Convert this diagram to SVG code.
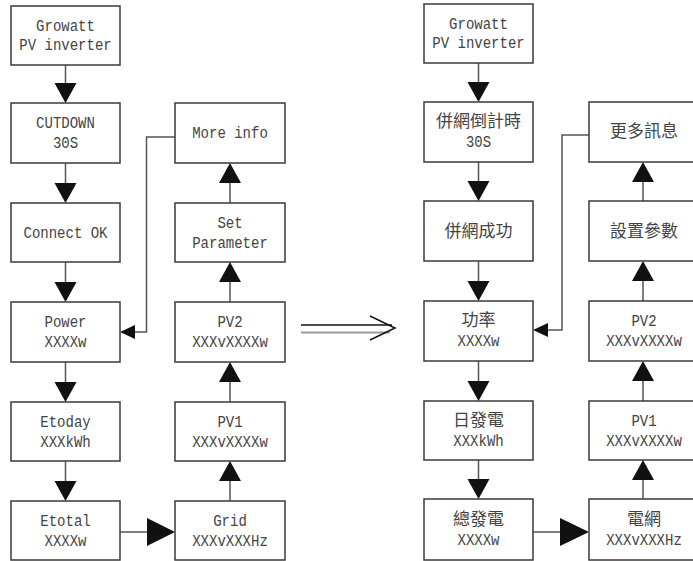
<svg xmlns="http://www.w3.org/2000/svg" width="693" height="561" viewBox="0 0 693 561">
<style>
.box{fill:#fff;stroke:#3a3a3a;stroke-width:1.5}
.t{font-family:"Liberation Mono","DejaVu Sans Mono",monospace;font-size:16px;fill:#444;text-anchor:middle}
.c{font-family:"Noto Sans CJK TC","Noto Sans CJK SC",sans-serif;font-size:17px;fill:#444;text-anchor:middle}
.ln{fill:none;stroke:#555;stroke-width:1.5}
.ah{fill:#111;stroke:none}
</style>
<rect width="693" height="561" fill="#fff"/>
<g id="connectors">
  <!-- left diagram -->
  <line class="ln" x1="65.5" y1="65" x2="65.5" y2="84"/>
  <polygon class="ah" points="54.5,83 76.5,83 65.5,103"/>
  <line class="ln" x1="65.5" y1="163" x2="65.5" y2="184"/>
  <polygon class="ah" points="54.5,183 76.5,183 65.5,203"/>
  <line class="ln" x1="65.5" y1="262" x2="65.5" y2="283"/>
  <polygon class="ah" points="54.5,282 76.5,282 65.5,302"/>
  <line class="ln" x1="65.5" y1="361" x2="65.5" y2="383"/>
  <polygon class="ah" points="54.5,382 76.5,382 65.5,402"/>
  <line class="ln" x1="65.5" y1="461" x2="65.5" y2="482"/>
  <polygon class="ah" points="54.5,481 76.5,481 65.5,501"/>
  <line class="ln" x1="120" y1="532" x2="148" y2="532"/>
  <polygon class="ah" points="147,518 147,546 175,532"/>
  <line class="ln" x1="230" y1="501" x2="230" y2="480"/>
  <polygon class="ah" points="219,481 241,481 230,461"/>
  <line class="ln" x1="230" y1="402" x2="230" y2="381"/>
  <polygon class="ah" points="219,382 241,382 230,362"/>
  <line class="ln" x1="230" y1="302" x2="230" y2="281"/>
  <polygon class="ah" points="219,282 241,282 230,262"/>
  <line class="ln" x1="230" y1="203" x2="230" y2="182"/>
  <polygon class="ah" points="219,183 241,183 230,163"/>
  <polyline class="ln" points="175,137 146.5,137 146.5,332 134,332"/>
  <polygon class="ah" points="135,325 135,339 120,332"/>
  <!-- transition arrow -->
  <line x1="301" y1="325" x2="392" y2="325" stroke="#111" stroke-width="1.5"/>
  <line x1="301" y1="332.5" x2="390" y2="332.5" stroke="#999" stroke-width="2"/>
  <polyline points="370,316 395,328 370,340" fill="none" stroke="#111" stroke-width="1.5"/>
  <!-- right diagram -->
  <line class="ln" x1="478.5" y1="63" x2="478.5" y2="83"/>
  <polygon class="ah" points="467.5,82 489.5,82 478.5,102"/>
  <line class="ln" x1="478.5" y1="162" x2="478.5" y2="182"/>
  <polygon class="ah" points="467.5,181 489.5,181 478.5,201"/>
  <line class="ln" x1="478.5" y1="261" x2="478.5" y2="282"/>
  <polygon class="ah" points="467.5,281 489.5,281 478.5,301"/>
  <line class="ln" x1="478.5" y1="361" x2="478.5" y2="382"/>
  <polygon class="ah" points="467.5,381 489.5,381 478.5,401"/>
  <line class="ln" x1="478.5" y1="460" x2="478.5" y2="480"/>
  <polygon class="ah" points="467.5,479 489.5,479 478.5,499"/>
  <line class="ln" x1="533" y1="532" x2="561" y2="532"/>
  <polygon class="ah" points="560,518 560,546 589,532"/>
  <line class="ln" x1="643" y1="499" x2="643" y2="479"/>
  <polygon class="ah" points="632,480 654,480 643,460"/>
  <line class="ln" x1="643" y1="401" x2="643" y2="380"/>
  <polygon class="ah" points="632,381 654,381 643,361"/>
  <line class="ln" x1="643" y1="301" x2="643" y2="280"/>
  <polygon class="ah" points="632,281 654,281 643,261"/>
  <line class="ln" x1="643" y1="201" x2="643" y2="181"/>
  <polygon class="ah" points="632,182 654,182 643,162"/>
  <polyline class="ln" points="589,135 562,135 562,330 547,330"/>
  <polygon class="ah" points="548,323 548,337 533,330"/>
</g>
<!-- left diagram nodes -->
<g id="l-growatt"><rect class="box" x="11" y="6" width="109" height="59"/><text class="t" x="65.5" y="31" textLength="58.8" lengthAdjust="spacingAndGlyphs">Growatt</text><text class="t" x="65.5" y="50" textLength="92.4" lengthAdjust="spacingAndGlyphs">PV inverter</text></g>
<g id="l-cutdown"><rect class="box" x="11" y="103" width="109" height="60"/><text class="t" x="65.5" y="128" textLength="58.8" lengthAdjust="spacingAndGlyphs">CUTDOWN</text><text class="t" x="65.5" y="148" textLength="25.2" lengthAdjust="spacingAndGlyphs">30S</text></g>
<g id="l-connect"><rect class="box" x="11" y="203" width="109" height="59"/><text class="t" x="65.5" y="238" textLength="84" lengthAdjust="spacingAndGlyphs">Connect OK</text></g>
<g id="l-power"><rect class="box" x="11" y="302" width="109" height="60"/><text class="t" x="65.5" y="327" textLength="42" lengthAdjust="spacingAndGlyphs">Power</text><text class="t" x="65.5" y="347" textLength="42" lengthAdjust="spacingAndGlyphs">XXXXw</text></g>
<g id="l-etoday"><rect class="box" x="11" y="402" width="109" height="59"/><text class="t" x="65.5" y="427" textLength="50.4" lengthAdjust="spacingAndGlyphs">Etoday</text><text class="t" x="65.5" y="447" textLength="50.4" lengthAdjust="spacingAndGlyphs">XXXkWh</text></g>
<g id="l-etotal"><rect class="box" x="11" y="501" width="109" height="59"/><text class="t" x="65.5" y="526" textLength="50.4" lengthAdjust="spacingAndGlyphs">Etotal</text><text class="t" x="65.5" y="546" textLength="42" lengthAdjust="spacingAndGlyphs">XXXXw</text></g>
<g id="l-moreinfo"><rect class="box" x="175" y="103" width="110" height="60"/><text class="t" x="230" y="138" textLength="75.6" lengthAdjust="spacingAndGlyphs">More info</text></g>
<g id="l-setparam"><rect class="box" x="175" y="203" width="110" height="59"/><text class="t" x="230" y="228" textLength="25.2" lengthAdjust="spacingAndGlyphs">Set</text><text class="t" x="230" y="248" textLength="75.6" lengthAdjust="spacingAndGlyphs">Parameter</text></g>
<g id="l-pv2"><rect class="box" x="175" y="302" width="110" height="60"/><text class="t" x="230" y="327" textLength="25.2" lengthAdjust="spacingAndGlyphs">PV2</text><text class="t" x="230" y="347" textLength="75.6" lengthAdjust="spacingAndGlyphs">XXXvXXXXw</text></g>
<g id="l-pv1"><rect class="box" x="175" y="402" width="110" height="59"/><text class="t" x="230" y="427" textLength="25.2" lengthAdjust="spacingAndGlyphs">PV1</text><text class="t" x="230" y="447" textLength="75.6" lengthAdjust="spacingAndGlyphs">XXXvXXXXw</text></g>
<g id="l-grid"><rect class="box" x="175" y="501" width="110" height="59"/><text class="t" x="230" y="526" textLength="33.6" lengthAdjust="spacingAndGlyphs">Grid</text><text class="t" x="230" y="546" textLength="75.6" lengthAdjust="spacingAndGlyphs">XXXvXXXHz</text></g>
<!-- right diagram nodes -->
<g id="r-growatt"><rect class="box" x="424" y="4" width="109" height="59"/><text class="t" x="478.5" y="29" textLength="58.8" lengthAdjust="spacingAndGlyphs">Growatt</text><text class="t" x="478.5" y="48" textLength="92.4" lengthAdjust="spacingAndGlyphs">PV inverter</text></g>
<g id="r-countdown"><rect class="box" x="424" y="102" width="109" height="60"/><text class="c" x="478.5" y="127">併網倒計時</text><text class="t" x="478.5" y="147" textLength="25.2" lengthAdjust="spacingAndGlyphs">30S</text></g>
<g id="r-connect"><rect class="box" x="424" y="201" width="109" height="60"/><text class="c" x="478.5" y="237">併網成功</text></g>
<g id="r-power"><rect class="box" x="424" y="301" width="109" height="60"/><text class="c" x="478.5" y="326">功率</text><text class="t" x="478.5" y="346" textLength="42" lengthAdjust="spacingAndGlyphs">XXXXw</text></g>
<g id="r-etoday"><rect class="box" x="424" y="401" width="109" height="59"/><text class="c" x="478.5" y="426">日發電</text><text class="t" x="478.5" y="446" textLength="50.4" lengthAdjust="spacingAndGlyphs">XXXkWh</text></g>
<g id="r-etotal"><rect class="box" x="424" y="499" width="109" height="61"/><text class="c" x="478.5" y="525">總發電</text><text class="t" x="478.5" y="545" textLength="42" lengthAdjust="spacingAndGlyphs">XXXXw</text></g>
<g id="r-moreinfo"><rect class="box" x="589" y="102" width="110" height="60"/><text class="c" x="644" y="137">更多訊息</text></g>
<g id="r-setparam"><rect class="box" x="589" y="201" width="110" height="60"/><text class="c" x="644" y="237">設置參數</text></g>
<g id="r-pv2"><rect class="box" x="589" y="301" width="110" height="60"/><text class="t" x="644" y="326" textLength="25.2" lengthAdjust="spacingAndGlyphs">PV2</text><text class="t" x="644" y="346" textLength="75.6" lengthAdjust="spacingAndGlyphs">XXXvXXXXw</text></g>
<g id="r-pv1"><rect class="box" x="589" y="401" width="110" height="59"/><text class="t" x="644" y="426" textLength="25.2" lengthAdjust="spacingAndGlyphs">PV1</text><text class="t" x="644" y="446" textLength="75.6" lengthAdjust="spacingAndGlyphs">XXXvXXXXw</text></g>
<g id="r-grid"><rect class="box" x="589" y="499" width="110" height="61"/><text class="c" x="644" y="525">電網</text><text class="t" x="644" y="545" textLength="75.6" lengthAdjust="spacingAndGlyphs">XXXvXXXHz</text></g>
</svg>
